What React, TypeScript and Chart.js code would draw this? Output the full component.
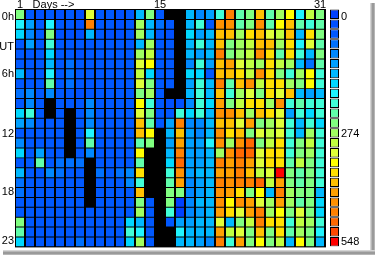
import React, { useEffect, useRef } from 'react';
import { Chart, registerables } from 'chart.js';

Chart.register(...registerables);

// Days of the month (x categories)
const days = [1, 2, 3, 4, 5, 6, 7, 8, 9, 10, 11, 12, 13, 14, 15, 16, 17, 18, 19, 20, 21, 22, 23, 24, 25, 26, 27, 28, 29, 30, 31];

// Values per hour (UT), one entry per day; null = no data
const h00 = [264, 48, 24, 48, 24, 48, 24, 336, 48, 48, 24, 48, 144, 264, 48, null, null, 144, 96, 120, 216, 480, 240, 264, 408, 240, 288, 360, 192, 312, 264];
const h01 = [192, 120, 48, 192, 48, 48, 24, 480, 48, 48, 24, 48, 288, 144, 72, 48, null, 144, 216, 48, 456, 456, 240, 264, 456, 240, 360, 408, 240, 216, 240];
const h02 = [168, 96, 48, 264, 24, 24, 24, 144, 48, 24, 24, 48, 288, 144, 48, 24, null, 168, 120, 144, 408, 408, 288, 384, 408, 336, 312, 408, 144, 384, 264];
const h03 = [48, 120, 48, 216, 48, 48, 48, 48, 48, 48, 48, 48, 144, 288, 48, 48, null, 144, 216, 144, 408, 264, 288, 312, 408, 408, 288, 384, 192, 336, 240];
const h04 = [48, 48, 48, 168, 48, 48, 24, 48, 48, 48, 48, 48, 288, 312, 48, 48, null, 144, 120, 144, 480, 264, 288, 312, 456, 384, 240, 384, 216, 144, 264];
const h05 = [48, 48, 48, 144, 48, 72, 48, 48, 48, 48, 48, 48, 336, 360, 48, 48, null, 96, 216, 120, 408, 432, 336, 312, 288, 384, 312, 288, 144, 72, 240];
const h06 = [144, 48, 48, 192, 48, 72, 48, 48, 48, 48, 48, 48, 312, 168, 48, 48, null, 168, 168, 48, 408, 408, 384, 312, 456, 384, 264, 216, 288, 360, 216];
const h07 = [48, 48, 48, 240, 48, 72, 48, 48, 48, 48, 48, 48, 336, 264, 48, 48, null, 120, 216, 144, 480, 240, 408, 456, 312, 384, 384, 288, 264, 360, 216];
const h08 = [72, 96, 48, 96, 48, 48, 24, 48, 48, 48, 48, 48, 264, 288, 48, null, null, 144, 216, 144, 408, 216, 288, 336, 264, 384, 336, 408, 144, 120, 144];
const h09 = [48, 96, 48, null, 48, 48, 48, 96, 48, 48, 48, 48, 360, 216, 48, 24, 24, 96, 216, 168, 432, 264, 312, 384, 384, 288, 456, 216, 240, 216, 216];
const h10 = [168, 216, 48, null, 48, null, 48, 96, 48, 48, 48, 48, 336, 264, 48, 48, 216, 168, 216, 144, 456, 456, 408, 288, 408, 384, 336, 120, 216, 168, 216];
const h11 = [120, 96, 48, 48, 48, null, 48, 96, 48, 48, 48, 48, 408, 240, 48, 120, 480, 96, 96, 144, 408, 408, 336, 432, 264, 288, 336, 216, 144, 216, 168];
const h12 = [48, 48, 48, 48, 48, null, 48, 192, 48, 48, 48, 48, 408, 360, null, 144, 408, 120, 96, 144, 456, 384, 408, 264, 336, 312, 336, 216, 144, 288, 216];
const h13 = [96, 48, 48, 48, 48, null, 48, 240, 48, 48, 48, 48, 240, 264, null, 120, 432, 120, 120, 192, 456, 288, 456, 504, 264, 312, 384, 216, 264, 312, 216];
const h14 = [168, 48, 120, 48, 48, null, 48, 96, 48, 48, 48, 48, 360, null, null, 144, 480, 120, 120, 144, 288, 456, 504, 504, 336, 384, 384, 216, 264, 288, 216];
const h15 = [48, 48, 240, 48, 72, 72, 72, null, 48, 48, 48, 48, 240, null, null, 168, 504, 120, 120, 144, 480, 432, 480, 432, 336, 384, 384, 240, 312, 264, 216];
const h16 = [144, 48, 48, 96, 72, 48, 48, null, 72, 48, 72, 96, 384, null, null, 216, 456, 120, 144, 144, 432, 432, 480, 408, 312, 336, 548, 264, 240, 264, 216];
const h17 = [72, 48, 48, 48, 48, 48, 48, null, 48, 48, 48, 96, 216, null, null, 240, 432, 96, 120, 144, 480, 456, 480, 480, 504, 312, 432, 264, 240, 264, 216];
const h18 = [72, 48, 48, 48, 48, 48, 48, null, 48, 48, 48, 48, 408, null, null, 264, 264, 96, 120, 144, 456, 432, 384, 264, 360, 144, 480, 288, 264, 264, 144];
const h19 = [48, 48, 48, 48, 48, 48, 48, null, 48, 48, 48, 48, 264, 48, null, 264, 0, 96, 144, 144, 456, 360, 456, 432, 336, 288, 432, 288, 240, 264, 168];
const h20 = [48, 48, 48, 48, 48, 48, 48, 48, 48, 48, 48, 48, 288, 48, null, 216, 0, 96, 120, 144, 432, 384, 336, 432, 480, 288, 360, 264, 336, 264, 168];
const h21 = [264, 48, 48, 48, 48, 48, 48, 48, 48, 48, 48, 168, 144, 48, null, 48, 120, 120, 144, 144, 336, 144, 264, 312, 480, 384, 384, 216, 312, 288, 216];
const h22 = [240, 48, 48, 48, 48, 48, 48, 48, 48, 48, 48, 216, 192, 48, null, null, 192, 144, 144, 144, 432, 312, 336, 264, 408, 264, 384, 240, 288, 264, 192];
const h23 = [168, 48, 48, 48, 48, 48, 72, 48, 48, 48, 48, 168, 288, 48, null, null, 144, 144, 120, 96, 480, 216, 432, 264, 360, 264, 312, 144, 360, 264, 144];

const hourRows = [h00, h01, h02, h03, h04, h05, h06, h07, h08, h09, h10, h11, h12, h13, h14, h15, h16, h17, h18, h19, h20, h21, h22, h23];

// Tick labels
const hourTickPos = [0.8, 3.8, 6.6, 12.6, 18.5, 23.5];
const hourTickLabels = ['0h', 'UT', '6h', '12', '18', '23'];
const dayTickPos = [1, 4.35, 15, 31];
const dayTickLabels = ['1', 'Days -->', '15', '31'];
const scaleTickPos = [0.8, 12.6, 23.6];
const scaleTickLabels = ['0', '274', '548'];
const scaleMax = 548;

// Colour scale (24 steps, blue -> red)
const palette = [
  '#0040ff', '#0050ff', '#0058ff', '#0070ff', '#0088ff', '#00a0ff',
  '#00b8ff', '#00d8ff', '#20f4ff', '#40ffd8', '#60ffaa', '#80ff80',
  '#a0ff60', '#c0ff40', '#e0ff38', '#ffff00', '#ffe000', '#ffc000',
  '#ffa000', '#ff9000', '#ff8000', '#ff6800', '#ff4800', '#ff0000',
];

const colorFor = (v: number) => palette[Math.max(0, Math.min(23, Math.round((v * 23) / scaleMax)))];

const FONT = { family: '"Liberation Sans", Arial, sans-serif', size: 11 };

const bgPlugin = {
  id: 'plotBg',
  beforeDatasetsDraw(chart: any) {
    const { ctx, scales } = chart;
    const x = scales.x;
    const y = scales.y;
    const l = x.getPixelForValue(0.5);
    const r = x.getPixelForValue(31.5) + 1;
    const t = y.getPixelForValue(0);
    const b = y.getPixelForValue(24) + 1;
    ctx.save();
    ctx.fillStyle = '#000';
    ctx.fillRect(l, t, r - l, b - t);
    ctx.restore();
  },
};

export default function App() {
  const ref = useRef<HTMLCanvasElement | null>(null);

  useEffect(() => {
    if (!ref.current) return;
    const cells: any[] = [];
    hourRows.forEach((row, h) => {
      row.forEach((v, i) => {
        if (v !== null && v !== undefined) cells.push({ x: days[i], y: [h + 0.1, h + 1], v });
      });
    });
    const bar = palette.map((c, k) => ({ x: 32.45, y: [k + 0.05, k + 1], k }));

    const chart = new Chart(ref.current, {
      type: 'bar',
      data: {
        datasets: [
          {
            data: cells,
            grouped: false,
            barThickness: 8,
            borderWidth: 0,
            inflateAmount: 0,
            backgroundColor: (ctx: any) => (ctx.raw ? colorFor(ctx.raw.v) : '#000'),
          } as any,
          {
            data: bar,
            grouped: false,
            barThickness: 9,
            borderWidth: 1,
            borderColor: '#000',
            borderSkipped: false,
            inflateAmount: 0,
            backgroundColor: (ctx: any) => (ctx.raw ? palette[ctx.raw.k] : '#000'),
          } as any,
        ],
      },
      options: {
        responsive: false,
        animation: false,
        devicePixelRatio: 1,
        events: [],
        layout: { padding: { left: 0, right: 0, top: 0, bottom: 6 } },
        plugins: { legend: { display: false }, tooltip: { enabled: false }, title: { display: false } },
        scales: {
          x: {
            type: 'linear',
            position: 'top',
            offset: false,
            min: 0.5,
            max: 32.9,
            grid: { display: false, drawTicks: false, offset: false },
            border: { display: false },
            afterBuildTicks: (axis: any) => {
              axis.ticks = dayTickPos.map((v) => ({ value: v }));
            },
            afterFit: (axis: any) => {
              axis.height = 9;
            },
            ticks: {
              autoSkip: false,
              maxRotation: 0,
              padding: -3,
              color: '#000',
              font: FONT,
              callback: (_v: any, i: number) => dayTickLabels[i],
            },
          },
          y: {
            type: 'linear',
            position: 'left',
            reverse: true,
            min: 0,
            max: 24,
            grid: { display: false, drawTicks: false },
            border: { display: false },
            afterBuildTicks: (axis: any) => {
              axis.ticks = hourTickPos.map((v) => ({ value: v }));
            },
            afterFit: (axis: any) => {
              axis.width = 15;
            },
            ticks: {
              autoSkip: false,
              padding: 1,
              color: '#000',
              font: FONT,
              callback: (_v: any, i: number) => hourTickLabels[i],
            },
          },
          y2: {
            type: 'linear',
            position: 'right',
            reverse: true,
            min: 0,
            max: 24,
            grid: { display: false, drawTicks: false },
            border: { display: false },
            afterBuildTicks: (axis: any) => {
              axis.ticks = scaleTickPos.map((v) => ({ value: v }));
            },
            afterFit: (axis: any) => {
              axis.width = 36;
            },
            ticks: {
              autoSkip: false,
              padding: 2,
              color: '#000',
              font: FONT,
              callback: (_v: any, i: number) => scaleTickLabels[i],
            },
          },
        },
      } as any,
      plugins: [bgPlugin],
    });
    return () => chart.destroy();
  }, []);

  return (
    <div style={{ position: 'fixed', left: 0, top: 0, width: 375, height: 255, background: '#fff', overflow: 'hidden' }}>
      <canvas ref={ref} width={375} height={255} style={{ display: 'block', width: 375, height: 255 }} />
      <div
        style={{
          position: 'absolute',
          left: 370,
          top: 3,
          width: 5,
          height: 252,
          background: 'linear-gradient(to right, #e4e4e4, #a8a8a8 40%, #8c8c8c 60%, #c4c4c4)',
        }}
      />
      <div
        style={{
          position: 'absolute',
          left: 3,
          top: 250,
          width: 372,
          height: 5,
          background: 'linear-gradient(to bottom, #e4e4e4, #a8a8a8 40%, #8c8c8c 60%, #c4c4c4)',
        }}
      />
    </div>
  );
}
